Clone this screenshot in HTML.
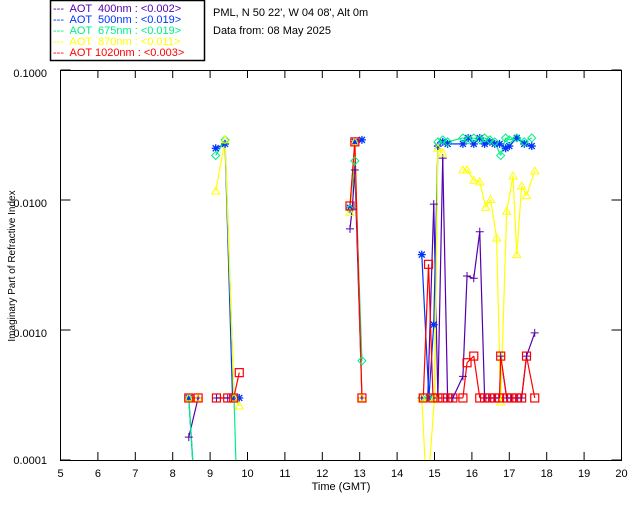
<!DOCTYPE html>
<html><head><meta charset="utf-8">
<style>
body{margin:0;background:#fff;}
svg{display:block;font-family:"Liberation Sans",sans-serif;}
</style></head>
<body>
<svg id="chart" width="640" height="512">
  <rect width="640" height="512" fill="#fff"/>
  <rect x="50.5" y="0.5" width="154" height="60" fill="none" stroke="#000" stroke-width="1.5"/>
  <g font-size="11">
    <text x="53" y="12" fill="#5500aa" xml:space="preserve">---  AOT  400nm : &lt;0.002&gt;</text>
    <text x="53" y="23" fill="#0033ff" xml:space="preserve">---  AOT  500nm : &lt;0.019&gt;</text>
    <text x="53" y="34" fill="#00ee88" xml:space="preserve">---  AOT  675nm : &lt;0.019&gt;</text>
    <text x="53" y="45" fill="#ffff00" xml:space="preserve">---  AOT  870nm : &lt;0.011&gt;</text>
    <text x="53" y="56" fill="#ff0000" xml:space="preserve">---  AOT 1020nm : &lt;0.003&gt;</text>
  </g>
  <text x="213" y="16" font-size="11">PML, N 50 22', W 04 08', Alt 0m</text>
  <text x="213" y="34" font-size="11">Data from: 08 May 2025</text>
  <text x="47" y="77" font-size="11" text-anchor="end">0.1000</text>
  <text x="47" y="207" font-size="11" text-anchor="end">0.0100</text>
  <text x="47" y="337" font-size="11" text-anchor="end">0.0010</text>
  <text x="47" y="464" font-size="11" text-anchor="end">0.0001</text>
  <text x="341" y="490" font-size="11" text-anchor="middle">Time (GMT)</text>
  <text transform="translate(15,266) rotate(-90)" font-size="10" text-anchor="middle">Imaginary Part of Refractive Index</text>
  <defs><clipPath id="pc"><rect x="60" y="70" width="562" height="390"/></clipPath></defs>
  <g id="ticks"></g>
  <g id="lines" clip-path="url(#pc)"></g>
  <g id="marks" clip-path="url(#pc)"></g>
  <rect x="60.5" y="70.5" width="561" height="390" fill="none" stroke="#000" stroke-width="1"/>
</svg>
<script>
const xTicks=[5,6,7,8,9,10,11,12,13,14,15,16,17,18,19,20];
const t400=[8.43,8.68,9.17,9.47,9.63,12.74,12.8,12.87,13.06,14.66,14.82,14.98,15.09,15.22,15.35,15.49,15.76,15.87,16.05,16.21,16.34,16.48,16.61,16.74,16.77,16.93,17.06,17.2,17.33,17.46,17.68];
const v400=[0.00015,0.0003,0.0003,0.0003,0.0003,0.006,0.0085,0.017,0.0003,0.0003,0.0003,0.0093,0.0003,0.021,0.0003,0.0003,0.00044,0.0026,0.0025,0.0057,0.0003,0.0003,0.0003,0.0003,0.00063,0.0003,0.0003,0.0003,0.0003,0.00063,0.00095];
const t500=[8.43,8.6,9.15,9.4,9.6,9.78,12.74,12.87,13.06,14.66,14.85,14.98,15.09,15.22,15.35,15.76,15.9,16.05,16.21,16.34,16.48,16.61,16.74,16.9,17.0,17.2,17.4,17.6];
const v500=[0.0003,0.00005,0.025,0.027,0.0003,0.0003,0.0087,0.028,0.029,0.0038,0.0003,0.0011,0.026,0.028,0.027,0.027,0.03,0.027,0.03,0.027,0.028,0.027,0.027,0.025,0.026,0.03,0.027,0.026];
const t675=[8.43,8.6,9.15,9.4,9.64,9.72,12.74,12.87,13.06,14.66,14.85,15.0,15.09,15.22,15.35,15.76,15.9,16.05,16.21,16.34,16.48,16.61,16.77,16.9,17.0,17.2,17.4,17.6];
const v675=[0.0003,0.00005,0.022,0.029,0.0003,0.00005,0.0085,0.02,0.00058,0.0003,0.0003,0.0003,0.028,0.029,0.028,0.03,0.029,0.03,0.029,0.03,0.029,0.028,0.022,0.03,0.029,0.03,0.028,0.03];
const t870=[8.43,8.68,9.15,9.4,9.64,9.78,12.74,12.87,13.06,14.66,14.8,15.0,15.09,15.22,15.76,15.87,16.05,16.21,16.37,16.5,16.66,16.77,16.93,17.1,17.2,17.33,17.46,17.68];
const v870=[0.0003,0.0003,0.0117,0.029,0.0003,0.00026,0.008,0.028,0.0003,0.0003,0.00005,0.0003,0.025,0.023,0.017,0.017,0.0142,0.0138,0.0088,0.0101,0.0051,0.00028,0.0082,0.0153,0.0038,0.0128,0.0108,0.0167];
const t1020=[8.43,8.68,9.17,9.47,9.63,9.78,12.74,12.87,13.06,14.7,14.84,14.96,15.09,15.22,15.35,15.49,15.76,15.87,16.05,16.21,16.34,16.48,16.61,16.74,16.77,16.93,17.06,17.2,17.33,17.46,17.68];
const v1020=[0.0003,0.0003,0.0003,0.0003,0.0003,0.00047,0.009,0.028,0.0003,0.0003,0.0032,0.0003,0.0003,0.0003,0.0003,0.0003,0.0003,0.00056,0.00063,0.0003,0.0003,0.0003,0.0003,0.0003,0.00063,0.0003,0.0003,0.0003,0.0003,0.00063,0.0003];

const X0=60.5,X1=621.5,Y0=460,Y1=70;
const GAP=0.45;
const xs=t=>X0+(t-5)/(20-5)*(X1-X0);
const ys=v=>Y0-(Math.log10(v)+4)/3*(Y0-Y1);
const NS='http://www.w3.org/2000/svg';
function mk(tag,attrs,parent){const e=document.createElementNS(NS,tag);for(const k in attrs)e.setAttribute(k,attrs[k]);parent.appendChild(e);return e;}
const tg=document.getElementById('ticks');
xTicks.forEach(t=>{
  const x=xs(t);
  const a=mk('line',{x1:x,x2:x,y1:Y0,y2:Y0-8,stroke:'#000'},tg);
  
  
  const b=mk('line',{x1:x,x2:x,y1:Y1,y2:Y1+8,stroke:'#000'},tg);
  
  
  const l=mk('text',{x:x,y:477,'font-size':11,'text-anchor':'middle'},tg);
  l.textContent=t;
  
  
});
for(let d=-4;d<=-1;d++){
  const y=ys(Math.pow(10,d));
  const a=mk('line',{x1:X0,x2:X0+10,y1:y,y2:y,stroke:'#000'},tg);
  
  
  const b=mk('line',{x1:X1,x2:X1-10,y1:y,y2:y,stroke:'#000'},tg);
  
  
}
const series=[
 {name:'aot-400',t:t400,v:v400,c:'#5500aa',m:'plus'},
 {name:'aot-500',t:t500,v:v500,c:'#0033ff',m:'star'},
 {name:'aot-675',t:t675,v:v675,c:'#00ee88',m:'diamond'},
 {name:'aot-870',t:t870,v:v870,c:'#ffff00',m:'tri'},
 {name:'aot-1020',t:t1020,v:v1020,c:'#ff0000',m:'square'}];
const lg=document.getElementById('lines'),mg=document.getElementById('marks');
series.forEach(s=>{
  for(let i=1;i<s.t.length;i++){
    if(s.t[i]-s.t[i-1]>GAP) continue;
    const ln=mk('line',{x1:xs(s.t[i-1]),y1:ys(s.v[i-1]),x2:xs(s.t[i]),y2:ys(s.v[i]),stroke:s.c,'stroke-width':1.2},lg);
    
    
  }
});
series.forEach(s=>{
  s.t.forEach((t,i)=>{
    const x=xs(t),y=ys(s.v[i]);let e;
    if(s.m==='plus') e=mk('path',{d:`M${x-4},${y}H${x+4}M${x},${y-4}V${y+4}`,stroke:s.c,fill:'none'},mg);
    else if(s.m==='star') e=mk('path',{d:`M${x-4},${y}H${x+4}M${x},${y-4}V${y+4}M${x-3},${y-3}L${x+3},${y+3}M${x-3},${y+3}L${x+3},${y-3}`,stroke:s.c,fill:'none','stroke-width':1.3},mg);
    else if(s.m==='diamond') e=mk('path',{d:`M${x},${y-4}L${x+4},${y}L${x},${y+4}L${x-4},${y}Z`,stroke:s.c,fill:'none'},mg);
    else if(s.m==='tri') e=mk('path',{d:`M${x},${y-4}L${x+4},${y+3}L${x-4},${y+3}Z`,stroke:s.c,fill:'none'},mg);
    else e=mk('rect',{x:x-4,y:y-4,width:8,height:8,stroke:s.c,fill:'none','stroke-width':1.2},mg);
    
    
  });
});
</script>
</body></html>
